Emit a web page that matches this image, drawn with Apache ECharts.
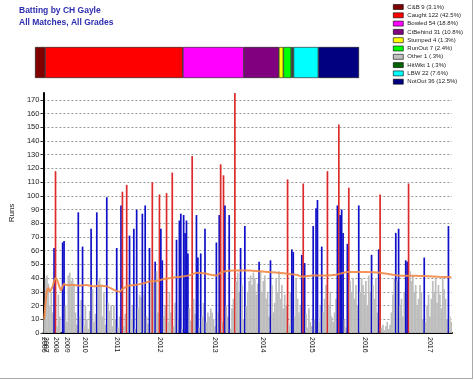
<!DOCTYPE html>
<html><head><meta charset="utf-8">
<script src="https://cdn.jsdelivr.net/npm/echarts@6/dist/echarts.min.js"></script>
<style>html,body{margin:0;padding:0;background:#fff}#c{width:474px;height:380px}</style>
</head><body><div id="c"></div><script>
// ---- data ----
const titleLines = ['Batting by CH Gayle', 'All Matches, All Grades'];
const years = ['2006','2007','2008','2009','2010','2011','2012','2013','2014','2015','2016','2017'];
const runs2006 = [10];
const runs2007 = [40,42,36,20,30,15,62];
const runs2008 = [118,5,28,12,0,66,67,20];
const runs2009 = [8,42,44,38,40,36,15,6,88,12,24,63,5];
const runs2010 = [20,10,3,16,76,32,8,14,88,38,40,35,12,29,6,99,22,16,20,5,20,10];
const runs2011 = [62,4,12,93,103,5,14,108,34,71,10,20,76,3,90,18,28,26,87,28,93,12,7,62,39,110,37,52,45,15];
const runs2012 = [101,76,53,12,20,102,8,30,15,117,5,22,68,10,82,87,3,86,73,82,58,18,9,129,25,14,86,55,4,58,12,22,76,8,15,12,18,15,10];
const runs2013 = [5,66,15,86,123,8,115,93,20,12,86,3,18,25,175,38,44,30,62,35,10,78,20,30,38,42,35,44,40,28,36,52,45,30];
const runs2014 = [38,42,25,30,12,53,35,15,22,40,30,45,25,35,18,28,20,112,6,30,61,59,12,40,25,15,20,57,109,51,14,4,18,8];
const runs2015 = [5,78,10,91,97,8,20,63,15,25,35,118,20,30,12,8,15,25,93,152,86,90,73,10,4,65,106,38,30,40,25,35,20,93,30,40,35];
const runs2016 = [28,38,20,42,30,57,35,25,40,15,61,101,4,6,2,5,8,3,6,15,28,40,73,38,76,20,25,12,30,53,52,109,45,38,42,30,35,20,25,35,30,10,55,8,20,28];
const runs2017 = [12,25,38,30,40,22,35,28,18,40,32,25,10,78,12,8];
const yearRuns = [runs2006,runs2007,runs2008,runs2009,runs2010,runs2011,runs2012,runs2013,runs2014,runs2015,runs2016,runs2017];
// running average line: [innings index, value]
const avgLine = [[0,10],[1,22],[2,31],[3,33],[4,30],[5,32],[6,34],[7,38],[8,40],[9,39],[10,36],[11,33],[12,31],[13,34],[14,36],[15,35],[20,35],[25,34.5],[30,35],[35,34],[40,34.5],[44,34],[48,32],[51,30.5],[53,30],[55,32],[59,34.5],[64,35],[69,36],[74,37.5],[79,38],[85,39.5],[91,40.5],[96,41],[102,42],[107,44],[112,43.5],[117,42.5],[121,42],[125,44.5],[134,45.5],[144,45.5],[151,45],[164,44],[177,42.5],[182,41],[188,42],[198,42],[205,42.5],[213,44.5],[226,44.5],[236,44],[248,42],[258,41.8],[267,41.6],[277,41],[286,40.6]];
const dismissalNames = ['C&B','Caught','Bowled','CtBehind','Stumped','RunOut','Other','HitWkt','LBW','NotOut'];
const dismissalCounts = [9,122,54,31,4,7,1,1,22,36];
const dismissalPct = ['3.1%','42.5%','18.8%','10.8%','1.3%','2.4%','.3%','.3%','7.6%','12.5%'];
const dismissalColors = ['#800000','#ff0000','#ff00ff','#800080','#ffff00','#00ff00','#c0c0c0','#006400','#00ffff','#000080'];
const yMax = 175, yStep = 10;

// ---- build ----
const runs = [], cats = [], yearLabel = [];
yearRuns.forEach((arr, yi) => {
  arr.forEach((v, k) => {
    cats.push(String(runs.length));
    yearLabel.push(k === 0 ? years[yi] : '');
    runs.push(v);
  });
});
const total = dismissalCounts.reduce((a, b) => a + b, 0);
const legendNames = dismissalNames.map((n, i) => n + ' ' + dismissalCounts[i] + ' (' + dismissalPct[i] + ')');

const stackSeries = dismissalNames.map((n, i) => ({
  type: 'bar', name: legendNames[i], xAxisIndex: 1, yAxisIndex: 1, stack: 'd',
  data: [dismissalCounts[i]], barWidth: '100%', silent: true,
  itemStyle: { color: dismissalColors[i], borderColor: '#111', borderWidth: 0.6 }
}));

const chart = echarts.init(document.getElementById('c'), null, { renderer: 'canvas' });
chart.setOption({
  animation: false,
  backgroundColor: '#fff',
  title: {
    text: titleLines.join('\n'), left: 19, top: 5, padding: 0,
    textStyle: { fontFamily: 'Liberation Sans, Arial', fontSize: 8.5, fontWeight: 'bold', color: '#2e2eb0', lineHeight: 12 }
  },
  legend: {
    data: legendNames, orient: 'vertical', left: 393, top: 3, padding: 0,
    itemWidth: 10, itemHeight: 5, itemGap: 0.3, icon: 'rect', selectedMode: false,
    itemStyle: { borderColor: '#000', borderWidth: 0.6 },
    textStyle: { fontFamily: 'Liberation Sans, Arial', fontSize: 6, lineHeight: 8, color: '#222', padding: [0, 0, 0, -1] }
  },
  grid: [
    { left: 36, right: 22, top: 93, bottom: 47 },
    { left: 35, top: 47, width: 324, height: 31 }
  ],
  xAxis: [
    {
      type: 'category', data: cats, gridIndex: 0, boundaryGap: true,
      axisLine: { lineStyle: { color: '#000', width: 2 } },
      axisTick: { interval: 0, length: 2, lineStyle: { color: '#333', width: 0.6 } },
      axisLabel: {
        interval: 0, rotate: -90, margin: 4, fontSize: 7, color: '#111',
        fontFamily: 'Liberation Sans, Arial',
        formatter: (v, i) => yearLabel[i]
      },
      splitLine: { show: false }
    },
    { type: 'value', gridIndex: 1, min: 0, max: total, show: false }
  ],
  yAxis: [
    {
      type: 'value', gridIndex: 0, min: 0, max: yMax, interval: yStep,
      name: 'Runs', nameLocation: 'middle', nameGap: 25, nameRotate: 90,
      nameTextStyle: { fontSize: 8, color: '#222', fontFamily: 'Liberation Sans, Arial' },
      axisLine: { show: true, lineStyle: { color: '#000', width: 2 } },
      axisTick: { show: true, length: 3, lineStyle: { color: '#333' } },
      axisLabel: { fontSize: 7.5, color: '#222', margin: 4, showMaxLabel: false, fontFamily: 'Liberation Sans, Arial' },
      splitLine: { show: true, showMinLine: false, showMaxLine: false, lineStyle: { color: '#999', type: [2, 2], width: 1 } }
    },
    { type: 'category', gridIndex: 1, data: [''], show: false }
  ],
  series: [
    {
      type: 'bar', name: 'Runs', data: runs, barWidth: 1.7, z: 2, silent: true,
      itemStyle: {
        color: p => p.value >= 100 ? '#dd2a2a' : (p.value >= 50 ? '#1010c8' : '#bdbdbd')
      }
    },
    {
      type: 'line', name: 'Average', data: avgLine, symbol: 'none', smooth: 0.2, z: 3, silent: true,
      lineStyle: { color: '#f28a48', width: 2, opacity: 0.9 }
    }
  ].concat(stackSeries),
  graphic: [
    { type: 'line', shape: { x1: 472.5, y1: 0, x2: 472.5, y2: 379 }, style: { stroke: '#aaa', lineWidth: 1 } },
    { type: 'line', shape: { x1: 0, y1: 378.5, x2: 473, y2: 378.5 }, style: { stroke: '#aaa', lineWidth: 1 } }
  ]
});
</script></body></html>
